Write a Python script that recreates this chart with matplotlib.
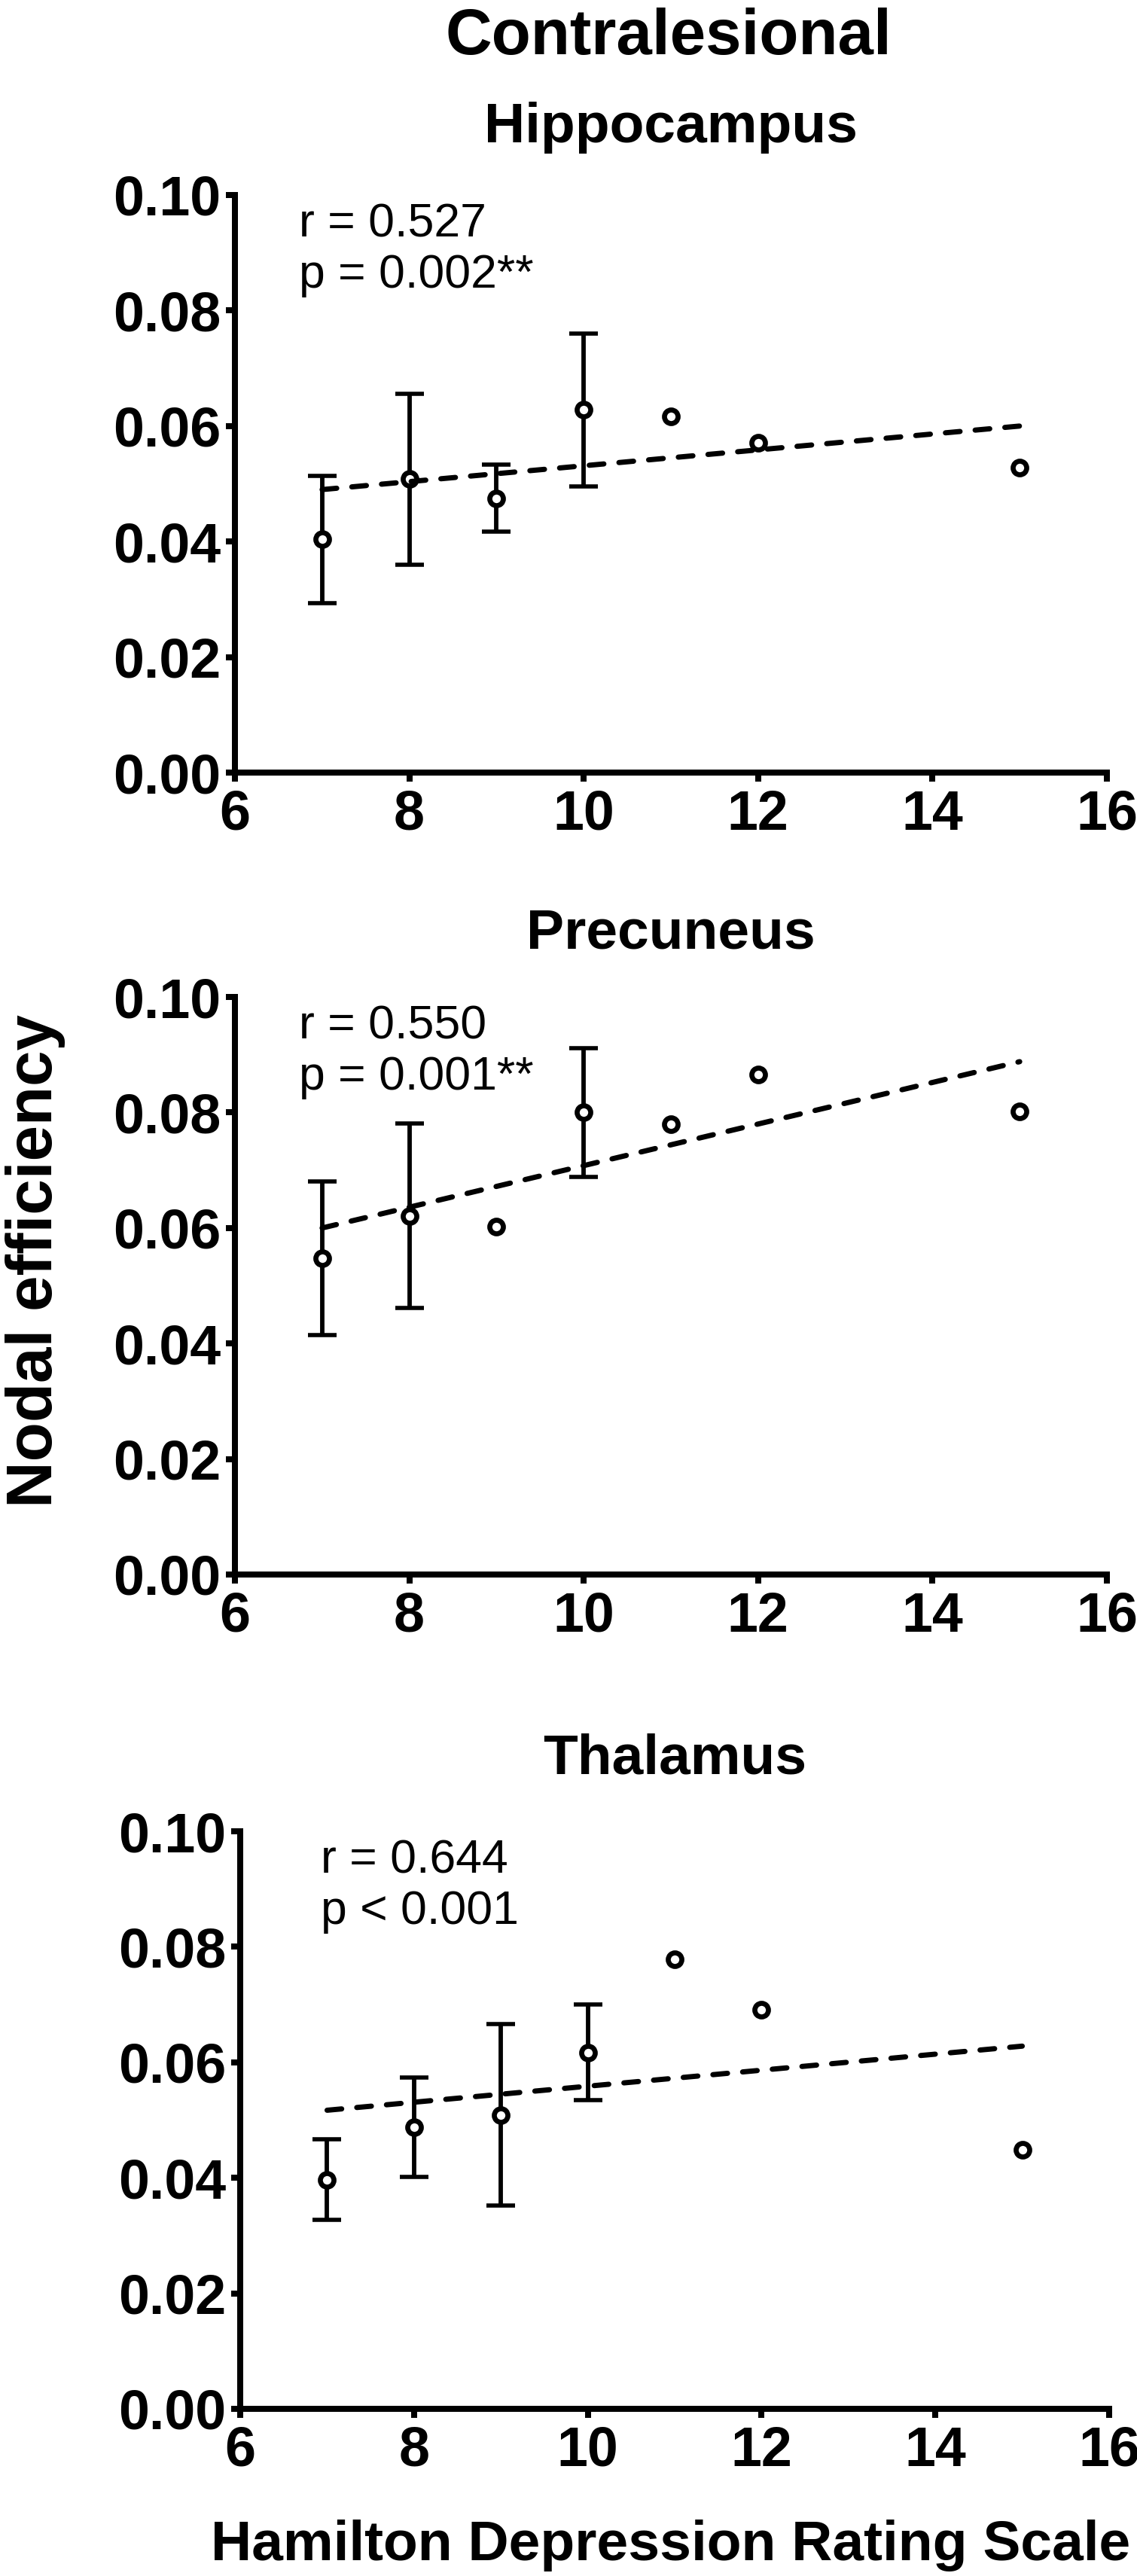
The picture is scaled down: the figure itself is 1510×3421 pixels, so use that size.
import matplotlib
matplotlib.use('Agg')
import matplotlib.pyplot as plt
from matplotlib import rcParams

rcParams['font.family'] = ['Liberation Sans', 'DejaVu Sans']
rcParams['lines.scale_dashes'] = False

# Data
hamd = [7, 8, 9, 10, 11, 12, 15]
regions = ['Hippocampus', 'Precuneus', 'Thalamus']

hip_mean = [0.0404, 0.0508, 0.0475, 0.0628, 0.0617, 0.0571, 0.0528]
hip_err = [0.0110, 0.0148, 0.0058, 0.0132, 0, 0, 0]
pre_mean = [0.0548, 0.0621, 0.0602, 0.0800, 0.0780, 0.0866, 0.0802]
pre_err = [0.0133, 0.0160, 0, 0.0111, 0, 0, 0]
tha_mean = [0.0397, 0.0488, 0.0509, 0.0617, 0.0778, 0.0691, 0.0448]
tha_err = [0.0070, 0.0086, 0.0157, 0.0083, 0, 0, 0]

fit_x = [7, 15]
hip_fit = [0.0490, 0.0600]
pre_fit = [0.0600, 0.0888]
tha_fit = [0.0517, 0.0628]

r_labels = ['r = 0.527', 'r = 0.550', 'r = 0.644']
p_labels = ['p = 0.002**', 'p = 0.001**', 'p < 0.001']

xticks = [6, 8, 10, 12, 14, 16]
yticks = [0.00, 0.02, 0.04, 0.06, 0.08, 0.10]

means = [hip_mean, pre_mean, tha_mean]
errs = [hip_err, pre_err, tha_err]
fits = [hip_fit, pre_fit, tha_fit]

# layout in pixels (figure is 1510 x 3421 at dpi 100)
W, H = 1510, 3421
boxes = [(312, 259, 1470, 1026), (312, 1324, 1470, 2091), (319, 2432, 1473, 3199)]
title_base = [189, 1260, 2356]
text_x = [6.73, 6.73, 6.93]

fig = plt.figure(figsize=(W / 100, H / 100), dpi=100)

LW = 5.76
for i in range(3):
    l, t, r, b = boxes[i]
    ax = fig.add_axes([l / W, 1 - b / H, (r - l) / W, (b - t) / H])

    m, e = means[i], errs[i]
    xe = [x for x, v in zip(hamd, e) if v > 0]
    me = [y for y, v in zip(m, e) if v > 0]
    ee = [v for v in e if v > 0]
    ax.errorbar(xe, me, yerr=ee, fmt='none', ecolor='black', elinewidth=4.2,
                capsize=13.5, capthick=4.0, zorder=2)
    ax.plot(hamd, m, 'o', ms=13, mfc='white', mec='black', mew=4.8, zorder=3)
    ln, = ax.plot(fit_x, fits[i], color='black', lw=5.0, zorder=4,
                  dash_capstyle='round')
    ln.set_dashes([14, 14.5])

    ax.text(text_x[i], 0.0988, r_labels[i] + '\n' + p_labels[i], fontsize=45,
            ha='left', va='top')

    ax.set_xlim(6, 16)
    ax.set_ylim(0, 0.10)
    ax.set_xticks(xticks)
    ax.set_yticks(yticks)
    ax.set_xticklabels([str(v) for v in xticks])
    ax.set_yticklabels(['%.2f' % v for v in yticks])
    for s in ['top', 'right']:
        ax.spines[s].set_visible(False)
    for s in ['left', 'bottom']:
        ax.spines[s].set_linewidth(LW)
    ax.tick_params(axis='both', direction='out', length=8.6, width=LW,
                   labelsize=53)
    ax.tick_params(axis='y', pad=5)
    ax.tick_params(axis='x', pad=7)
    for lab in ax.get_xticklabels() + ax.get_yticklabels():
        lab.set_fontweight('bold')

    fig.text((l + r) / 2 / W, 1 - title_base[i] / H, regions[i], fontsize=54,
             fontweight='bold', ha='center', va='baseline')

fig.text(888 / W, 1 - 72 / H, 'Contralesional', fontsize=61.5,
         fontweight='bold', ha='center', va='baseline')
fig.text(891 / W, 1 - 3400 / H, 'Hamilton Depression Rating Scale',
         fontsize=54, fontweight='bold', ha='center', va='baseline')
fig.text(69 / W, 1 - 1675 / H, 'Nodal efficiency', fontsize=61.5,
         fontweight='bold', rotation=90, rotation_mode='anchor',
         ha='center', va='baseline')

fig.savefig('out.png', dpi=100, facecolor='white')
